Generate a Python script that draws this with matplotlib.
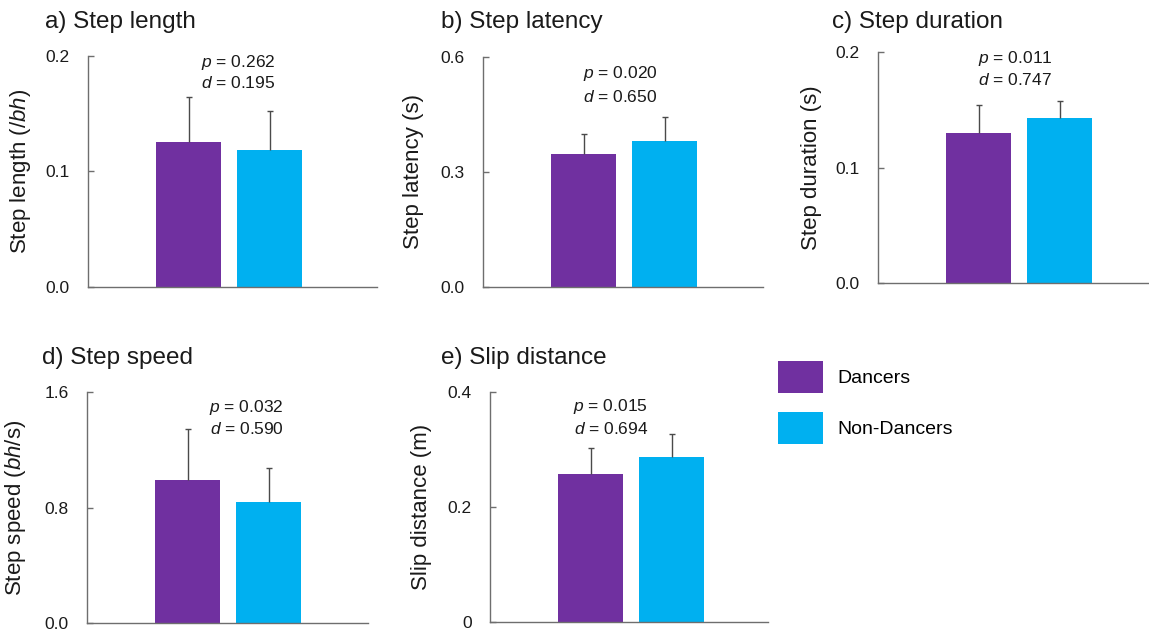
import matplotlib
matplotlib.use("Agg")
import matplotlib.pyplot as plt
from matplotlib.patches import Patch

plt.rcParams["font.family"] = ["Liberation Sans", "DejaVu Sans"]
plt.rcParams["mathtext.fontset"] = "custom"
plt.rcParams["mathtext.rm"] = "Liberation Sans"
plt.rcParams["mathtext.it"] = "Liberation Sans:italic"

# Group means and standard deviations (Dancers, Non-Dancers)
groups = ["Dancers", "Non-Dancers"]
colors = ["#7030A0", "#00B0F0"]

titles = ["a) Step length", "b) Step latency", "c) Step duration",
          "d) Step speed", "e) Slip distance"]
ylabels = ["Step length ($/bh$)", "Step latency (s)", "Step duration (s)",
           "Step speed ($bh$/s)", "Slip distance (m)"]

step_length_mean = [0.1255, 0.1186]
step_length_sd = [0.039, 0.034]
step_latency_mean = [0.347, 0.381]
step_latency_sd = [0.052, 0.062]
step_duration_mean = [0.130, 0.143]
step_duration_sd = [0.024, 0.015]
step_speed_mean = [0.990, 0.838]
step_speed_sd = [0.354, 0.236]
slip_distance_mean = [0.257, 0.287]
slip_distance_sd = [0.045, 0.040]

means = [step_length_mean, step_latency_mean, step_duration_mean,
         step_speed_mean, slip_distance_mean]
sds = [step_length_sd, step_latency_sd, step_duration_sd,
       step_speed_sd, slip_distance_sd]

y_ticks = [[0.0, 0.1, 0.2], [0.0, 0.3, 0.6], [0.0, 0.1, 0.2],
           [0.0, 0.8, 1.6], [0.0, 0.2, 0.4]]
y_ticklabels = [["0.0", "0.1", "0.2"], ["0.0", "0.3", "0.6"],
                ["0.0", "0.1", "0.2"], ["0.0", "0.8", "1.6"],
                ["0", "0.2", "0.4"]]

p_values = ["0.262", "0.020", "0.011", "0.032", "0.015"]
d_values = ["0.195", "0.650", "0.747", "0.590", "0.694"]

W, H = 1149, 630
fig = plt.figure(figsize=(W / 100, H / 100), dpi=100)

# axes boxes in pixels: left, right, top, bottom
boxes = [(88, 377, 56, 287), (483, 763, 57, 287), (878, 1148, 52, 283),
         (87, 368, 392, 623), (490, 768, 392, 622)]
ylabel_x = [21, 414, 811, 16, 422]
title_xy = [(45, 22), (441, 22), (832, 22), (42, 358), (441, 358)]
stat_x = [0.61, 0.45, 0.45, 0.73, 0.25]
stat_y = [(0.970, 0.883), (0.930, 0.826), (0.970, 0.879),
          (0.935, 0.840), (0.935, 0.839)]

spacing = 81.0  # px between bar centres
offset = 100.5  # px from spine to first bar centre
spine_col = "#6e6e6e"
err_col = "#4a4a4a"

for i in range(5):
    l, r, t, b = boxes[i]
    ax = fig.add_axes([l / W, 1 - b / H, (r - l) / W, (b - t) / H])
    ax.bar([0, 1], means[i], width=0.8, color=colors, zorder=2)
    eb = ax.errorbar([0, 1], means[i], yerr=[[0, 0], sds[i]], fmt="none",
                     ecolor=err_col, elinewidth=1.0, capsize=2.5,
                     capthick=1.0, zorder=3)
    # upper-only whiskers: hide the caps sitting on the bar tops
    eb[1][0].set_visible(False)
    x0 = -offset / spacing
    ax.set_xlim(x0, x0 + (r - l) / spacing)
    ax.set_ylim(y_ticks[i][0], y_ticks[i][-1])
    ax.set_yticks(y_ticks[i])
    ax.set_yticklabels(y_ticklabels[i])
    ax.set_xticks([])
    for s in ["top", "right"]:
        ax.spines[s].set_visible(False)
    for s in ["left", "bottom"]:
        ax.spines[s].set_color(spine_col)
        ax.spines[s].set_linewidth(1.0)
    ax.tick_params(axis="y", direction="in", length=4, width=1.0,
                   color=spine_col, pad=13, labelsize=12.5,
                   labelcolor="#1a1a1a")
    ax.set_ylabel(ylabels[i], fontsize=16, color="#1a1a1a", va="center")
    ax.yaxis.set_label_coords(ylabel_x[i] / W, 1 - (t + b) / 2 / H,
                              transform=fig.transFigure)
    ax.text(stat_x[i], stat_y[i][0], f"$p$ = {p_values[i]}",
            transform=ax.get_xaxis_transform(), ha="center", va="center",
            fontsize=12.5, color="#1a1a1a")
    ax.text(stat_x[i], stat_y[i][1], f"$d$ = {d_values[i]}",
            transform=ax.get_xaxis_transform(), ha="center", va="center",
            fontsize=12.5, color="#1a1a1a")
    tx, ty = title_xy[i]
    fig.text(tx / W, 1 - ty / H, titles[i], ha="left", va="center",
             fontsize=17.5, color="#1a1a1a")

handles = [Patch(facecolor=c, edgecolor="none") for c in colors]
fig.legend(handles, groups, loc="upper left",
           bbox_to_anchor=(778 / W, 1 - 361 / H), frameon=False,
           borderpad=0, borderaxespad=0,
           fontsize=14, handlelength=2.3, handleheight=2.16,
           handletextpad=0.75, labelspacing=0.98)

fig.savefig("out.png", dpi=100)
